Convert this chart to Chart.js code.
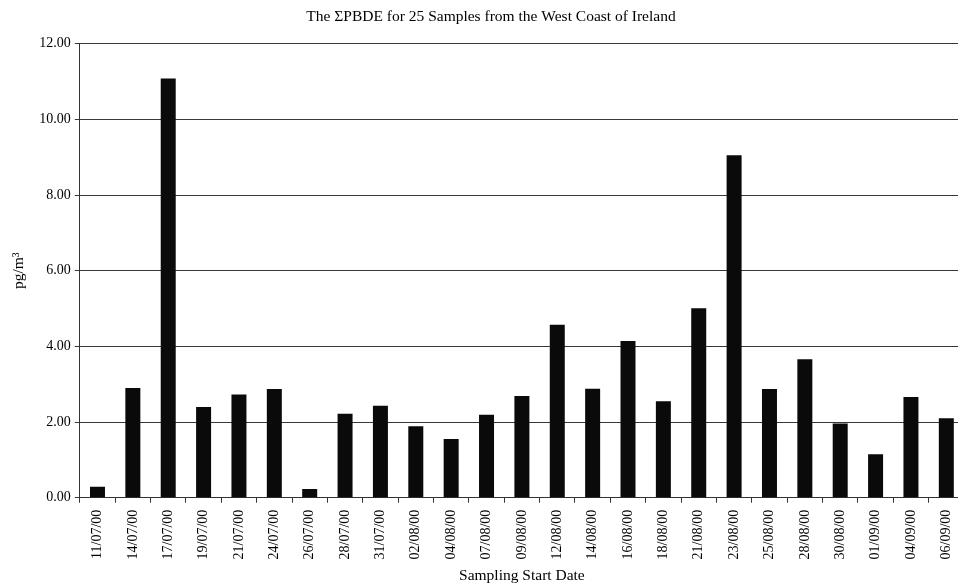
<!DOCTYPE html>
<html>
<head>
<meta charset="utf-8">
<script src="https://cdn.jsdelivr.net/npm/chart.js@4.4.1/dist/chart.umd.min.js"></script>
<style>
  html, body { margin: 0; padding: 0; background: #fff; overflow: hidden; }
  #wrap { position: relative; width: 982px; height: 585px; }
</style>
</head>
<body>
<div id="wrap"><canvas id="c"></canvas></div>
<script>
// Sampling start dates (dd/mm/yy)
const sampleDates = [
  '11/07/00', '14/07/00', '17/07/00', '19/07/00', '21/07/00', '24/07/00',
  '26/07/00', '28/07/00', '31/07/00', '02/08/00', '04/08/00', '07/08/00',
  '09/08/00', '12/08/00', '14/08/00', '16/08/00', '18/08/00', '21/08/00',
  '23/08/00', '25/08/00', '28/08/00', '30/08/00', '01/09/00', '04/09/00',
  '06/09/00'
];

// Sum of PBDE congeners, pg/m3
const sumPBDE = [
  0.29, 2.90, 11.08, 2.40, 2.73, 2.87,
  0.23, 2.22, 2.43, 1.89, 1.55, 2.19,
  2.69, 4.57, 2.88, 4.14, 2.55, 5.01,
  9.05, 2.87, 3.66, 1.96, 1.15, 2.66,
  2.10
];

// Y axis range
const yMin = 0;
const yMax = 12;
const yStep = 2;

const serif = '"Liberation Serif", "Times New Roman", serif';

new Chart(document.getElementById('c'), {
  type: 'bar',
  data: {
    labels: sampleDates,
    datasets: [{
      data: sumPBDE,
      backgroundColor: '#0a0a0a',
      borderWidth: 0,
      barPercentage: 0.424,
      categoryPercentage: 1.0
    }]
  },
  options: {
    responsive: true,
    maintainAspectRatio: false,
    animation: false,
    events: [],
    layout: { padding: { left: 18, right: 18, top: 0, bottom: 0 } },
    plugins: {
      legend: { display: false },
      tooltip: { enabled: false },
      title: {
        display: true,
        text: 'The ΣPBDE for 25 Samples from the West Coast of Ireland',
        color: '#000',
        font: { family: serif, size: 15.5, weight: 'normal' },
        padding: { top: 7.7, bottom: 17.4 }
      }
    },
    scales: {
      x: {
        afterFit: (s) => { s.height = 585 - 497.7; },
        grid: {
          offset: true,
          drawOnChartArea: false,
          drawTicks: true,
          tickLength: 5,
          color: '#333'
        },
        border: { display: true, color: '#333', width: 1 },
        ticks: {
          color: '#000',
          font: { family: serif, size: 14 },
          minRotation: 90,
          maxRotation: 90,
          autoSkip: false,
          padding: 7
        },
        title: {
          display: true,
          text: 'Sampling Start Date',
          color: '#000',
          font: { family: serif, size: 15.5 },
          padding: { top: 0, bottom: 0 }
        }
      },
      y: {
        min: yMin,
        max: yMax,
        afterFit: (s) => { s.width = 61.8; },
        grid: {
          drawOnChartArea: true,
          drawTicks: true,
          tickLength: 5,
          color: '#383838',
          lineWidth: 1
        },
        border: { display: true, color: '#333', width: 1 },
        ticks: {
          stepSize: yStep,
          color: '#000',
          font: { family: serif, size: 14 },
          padding: 4,
          callback: (v) => Number(v).toFixed(2)
        },
        title: {
          display: true,
          text: 'pg/m³',
          color: '#000',
          font: { family: serif, size: 15.5 },
          padding: { top: -8.3, bottom: 0 }
        }
      }
    }
  }
});
</script>
</body>
</html>
